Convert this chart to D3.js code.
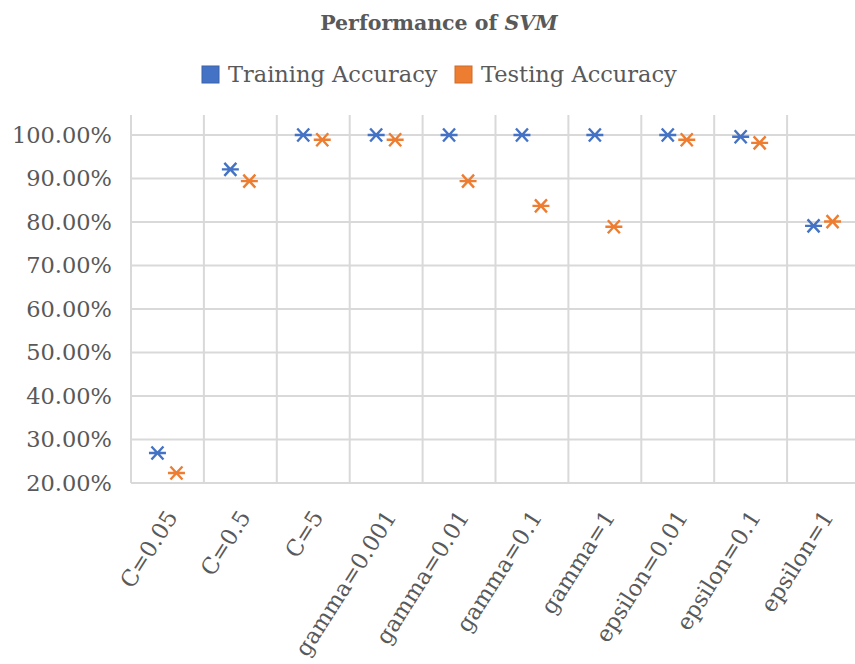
<!DOCTYPE html>
<html>
<head>
<meta charset="utf-8">
<script src="https://cdn.jsdelivr.net/npm/d3@7"></script>
<style>
  body { margin: 0; background: #fff; }
  svg { font-family: "DejaVu Serif", serif; }
</style>
</head>
<body>
<svg id="chart" width="855" height="664"></svg>
<script>
// data uit de grafiek
var categories = ["C=0.05", "C=0.5", "C=5", "gamma=0.001", "gamma=0.01",
                  "gamma=0.1", "gamma=1", "epsilon=0.01", "epsilon=0.1", "epsilon=1"];
var trainingAcc = [26.9, 92.1, 100, 100, 100, 100, 100, 100, 99.6, 79.1];
var testingAcc = [22.3, 89.4, 98.9, 98.9, 89.4, 83.7, 78.9, 98.9, 98.2, 80.1];
var yTicks = [20, 30, 40, 50, 60, 70, 80, 90, 100];
var seriesNames = ["Training Accuracy", "Testing Accuracy"];

// margins
var margin = {top: 135, right: 0, bottom: 181, left: 131};
var width = 860 - margin.left;
var height = 483 - margin.top;

var svg = d3.select("#chart");
var g = svg.append("g")
    .attr("transform", "translate(" + margin.left + "," + margin.top + ")");

var x = d3.scaleBand().domain(categories).range([0, width]);
var y = d3.scaleLinear().domain([20, 100]).range([height, 0]);
var colors = d3.scaleOrdinal().domain(seriesNames).range(["#4472C4", "#ED7D31"]);
var offset = d3.scalePoint().domain(seriesNames).range([-10, 9]);

// horizontale grid
g.selectAll(".hgrid")
  .data(yTicks)
  .enter().append("line")
    .attr("x1", 0).attr("x2", width)
    .attr("y1", function(d) { return y(d); })
    .attr("y2", function(d) { return y(d); })
    .attr("stroke", "#d9d9d9").attr("stroke-width", 2);

// verticale grid (categorie grenzen)
g.selectAll(".vgrid")
  .data(categories)
  .enter().append("line")
    .attr("x1", function(d) { return x(d); })
    .attr("x2", function(d) { return x(d); })
    .attr("y1", -20).attr("y2", height)
    .attr("stroke", "#d9d9d9").attr("stroke-width", 2);

// y as labels
g.append("g")
    .call(d3.axisLeft(y).tickValues(yTicks).tickSize(0).tickPadding(19)
      .tickFormat(function(d) { return d.toFixed(2) + "%"; }))
    .call(function(a) { a.select(".domain").remove(); })
    .selectAll("text")
      .attr("font-family", "DejaVu Serif")
      .attr("font-size", 22.5)
      .attr("fill", "#595959");

// x as labels
g.append("g")
    .attr("transform", "translate(0," + height + ")")
    .call(d3.axisBottom(x).tickSize(0).tickPadding(0))
    .call(function(a) { a.select(".domain").remove(); })
    .selectAll("text")
      .attr("font-family", "DejaVu Serif")
      .attr("font-size", 22.5)
      .attr("fill", "#595959")
      .attr("text-anchor", "end")
      .attr("dy", 0)
      .attr("y", 0)
      .attr("transform", "translate(11,34) rotate(-57.5)");

// star markers
var points = [];
categories.forEach(function(c, i) {
  points.push({cat: c, key: seriesNames[0], value: trainingAcc[i]});
  points.push({cat: c, key: seriesNames[1], value: testingAcc[i]});
});

var star = "M-8.5,0L8.5,0M-6,-6.5L6,6.5M-6,6.5L6,-6.5";
g.selectAll(".pt")
  .data(points)
  .enter().append("path")
    .attr("d", star)
    .attr("transform", function(d) {
      return "translate(" + (x(d.cat) + x.bandwidth() / 2 + offset(d.key)) + "," + y(d.value) + ")";
    })
    .attr("fill", "none")
    .attr("stroke", function(d) { return colors(d.key); })
    .attr("stroke-width", 2.4);

// titel
var title = svg.append("text")
    .attr("x", 439).attr("y", 30)
    .attr("text-anchor", "middle")
    .attr("font-size", 20.5)
    .attr("font-weight", "bold")
    .attr("fill", "#595959");
title.append("tspan").text("Performance of ");
title.append("tspan").attr("font-style", "italic").text("SVM");

// legenda
var legendX = [202, 455];
var legend = svg.selectAll(".legend")
  .data(seriesNames)
  .enter().append("g")
    .attr("transform", function(d, i) { return "translate(" + legendX[i] + ",66)"; });

legend.append("rect")
    .attr("width", 17).attr("height", 17)
    .attr("fill", colors)
    .attr("stroke", function(d) { return d3.color(colors(d)).darker(0.4); })
    .attr("stroke-width", 1);

legend.append("text")
    .attr("x", 26).attr("y", 16)
    .attr("font-size", 22.5)
    .attr("fill", "#595959")
    .text(function(d) { return d; });
</script>
</body>
</html>
